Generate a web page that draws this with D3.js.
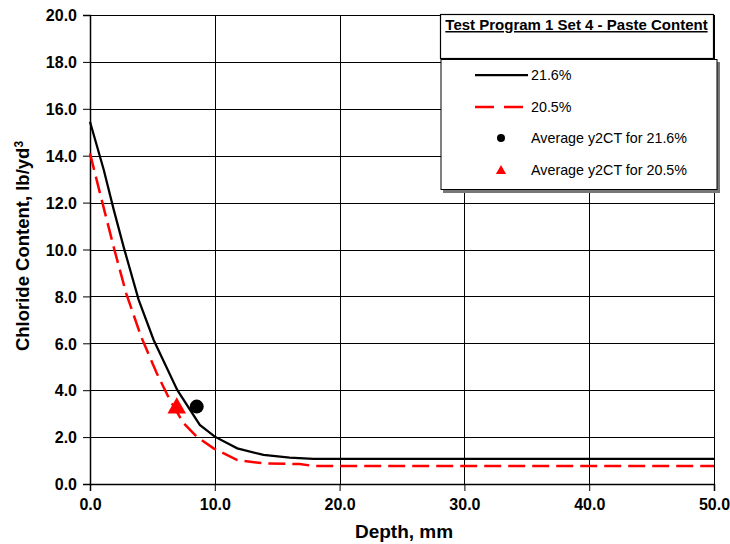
<!DOCTYPE html>
<html>
<head>
<meta charset="utf-8">
<script src="https://cdn.jsdelivr.net/npm/d3@7"></script>
<style>
  body { margin: 0; background: #fff; }
  text { font-family: "Liberation Sans", Arial, sans-serif; }
</style>
</head>
<body>
<div id="chart"></div>
<script>
// depth (mm) and chloride content (lb/yd3)
var depth216 = [0, 1.1, 1.9, 2.7, 3.9, 5.1, 7.0, 8.8, 10.0, 11.8, 13.9, 16.0, 17.9, 20, 30, 40, 50];
var chl216   = [15.45, 13.4, 11.7, 10.1, 7.85, 6.14, 4.0, 2.52, 2.02, 1.52, 1.24, 1.12, 1.07, 1.07, 1.07, 1.07, 1.07];

var depth205 = [0, 0.8, 1.9, 2.9, 4.1, 5.35, 6.4, 7.5, 8.55, 9.9, 11.8, 13.9, 16.8, 17.9, 20, 30, 40, 50];
var chl205   = [14.1, 12.4, 10.1, 8.13, 6.28, 4.72, 3.58, 2.59, 2.02, 1.52, 1.02, 0.88, 0.85, 0.77, 0.77, 0.77, 0.77, 0.77];

var avgPoints = [
  {name: "Average y2CT for 21.6%", depth: 8.55, value: 3.3},
  {name: "Average y2CT for 20.5%", depth: 6.95, value: 3.24}
];

var xTicks = [0, 10, 20, 30, 40, 50];
var yTicks = [0, 2, 4, 6, 8, 10, 12, 14, 16, 18, 20];
var legendLabels = ["21.6%", "20.5%", "Average y2CT for 21.6%", "Average y2CT for 20.5%"];
var chartTitle = "Test Program 1 Set 4 - Paste Content";

var W = 730, H = 544;
var margin = {top: 15, right: 16, bottom: 60, left: 90};
var width = W - margin.left - margin.right,
    height = H - margin.top - margin.bottom;

var svg = d3.select("#chart").append("svg")
    .attr("width", W)
    .attr("height", H);

var g = svg.append("g")
    .attr("transform", "translate(" + margin.left + "," + margin.top + ")");

var x = d3.scaleLinear().domain([0, 50]).range([0, width]);
var y = d3.scaleLinear().domain([0, 20]).range([height, 0]);

// grid
g.append("g").selectAll("line").data(yTicks).enter().append("line")
    .attr("x1", 0).attr("x2", width)
    .attr("y1", function(d) { return Math.round(y(d)) + 0.5; })
    .attr("y2", function(d) { return Math.round(y(d)) + 0.5; })
    .attr("stroke", "#000").attr("stroke-width", 1);
g.append("g").selectAll("line").data(xTicks).enter().append("line")
    .attr("y1", 0).attr("y2", height)
    .attr("x1", function(d) { return Math.round(x(d)) + 0.5; })
    .attr("x2", function(d) { return Math.round(x(d)) + 0.5; })
    .attr("stroke", "#000").attr("stroke-width", 1);

// axes
var xAxis = g.append("g")
    .attr("transform", "translate(0," + height + ")")
    .call(d3.axisBottom(x).tickValues(xTicks).tickFormat(d3.format(".1f")).tickSize(7).tickPadding(8));
var yAxis = g.append("g")
    .call(d3.axisLeft(y).tickValues(yTicks).tickFormat(d3.format(".1f")).tickSize(7).tickPadding(6));
[xAxis, yAxis].forEach(function(a) {
  a.select(".domain").attr("stroke", "#000").attr("stroke-width", 1.5);
  a.selectAll(".tick line").attr("stroke", "#000");
  a.selectAll(".tick text")
    .attr("fill", "#000")
    .style("font-family", "'Liberation Sans', Arial, sans-serif")
    .style("font-size", "16px")
    .style("font-weight", "bold");
});
yAxis.selectAll(".tick text").attr("dy", "0.36em");

// axis titles
svg.append("text")
    .attr("x", 404)
    .attr("y", 538)
    .attr("text-anchor", "middle")
    .style("font-size", "19px")
    .style("font-weight", "bold")
    .text("Depth, mm");

var yt = svg.append("text")
    .attr("transform", "translate(29," + 246 + ") rotate(-90)")
    .attr("text-anchor", "middle")
    .style("font-size", "18.5px")
    .style("font-weight", "bold");
yt.append("tspan").text("Chloride Content, lb/yd");
yt.append("tspan").attr("dy", "-0.5em").style("font-size", "12px").text("3");

// curves
var line = d3.line()
    .x(function(d) { return x(d[0]); })
    .y(function(d) { return y(d[1]); });

g.append("path")
    .datum(d3.zip(depth205, chl205))
    .attr("d", line)
    .attr("fill", "none")
    .attr("stroke", "#ff0000")
    .attr("stroke-width", 2.5)
    .attr("stroke-dasharray", "17,7");

g.append("path")
    .datum(d3.zip(depth216, chl216))
    .attr("d", line)
    .attr("fill", "none")
    .attr("stroke", "#000")
    .attr("stroke-width", 2.25);

// average markers
g.append("circle")
    .attr("cx", x(avgPoints[0].depth))
    .attr("cy", y(avgPoints[0].value))
    .attr("r", 7)
    .attr("fill", "#000");

g.append("path")
    .attr("transform", "translate(" + x(avgPoints[1].depth) + "," + y(avgPoints[1].value) + ")")
    .attr("d", d3.symbol().type(d3.symbolTriangle).size(150))
    .attr("fill", "#ff0000");

// title box
svg.append("rect")
    .attr("x", 440.5).attr("y", 14.5)
    .attr("width", 273).attr("height", 44)
    .attr("fill", "#fff").attr("stroke", "#000").attr("stroke-width", 1.2);
svg.append("text")
    .attr("x", 576.5).attr("y", 30)
    .attr("text-anchor", "middle")
    .style("font-size", "15px")
    .style("font-weight", "bold")
    .style("text-decoration", "underline")
    .text(chartTitle);

// legend
var lg = svg.append("g");
lg.append("rect")
    .attr("x", 443).attr("y", 62)
    .attr("width", 277).attr("height", 131)
    .attr("fill", "#777");
lg.append("rect")
    .attr("x", 441).attr("y", 59.5)
    .attr("width", 276).attr("height", 130)
    .attr("fill", "#fff").attr("stroke", "#000").attr("stroke-width", 1);

var rowY = [75, 107, 138, 170];
lg.append("line")
    .attr("x1", 475).attr("x2", 528).attr("y1", rowY[0]).attr("y2", rowY[0])
    .attr("stroke", "#000").attr("stroke-width", 2.25);
lg.append("line")
    .attr("x1", 475).attr("x2", 528).attr("y1", rowY[1]).attr("y2", rowY[1])
    .attr("stroke", "#ff0000").attr("stroke-width", 2.5).attr("stroke-dasharray", "19,10");
lg.append("circle")
    .attr("cx", 501).attr("cy", rowY[2]).attr("r", 4).attr("fill", "#000");
lg.append("path")
    .attr("transform", "translate(501," + (rowY[3] + 1) + ")")
    .attr("d", d3.symbol().type(d3.symbolTriangle).size(45))
    .attr("fill", "#ff0000");

lg.selectAll("text.lbl").data(legendLabels).enter().append("text")
    .attr("class", "lbl")
    .attr("x", 531)
    .attr("y", function(d, i) { return rowY[i] + 5; })
    .style("font-size", "14.3px")
    .text(function(d) { return d; });
</script>
</body>
</html>
